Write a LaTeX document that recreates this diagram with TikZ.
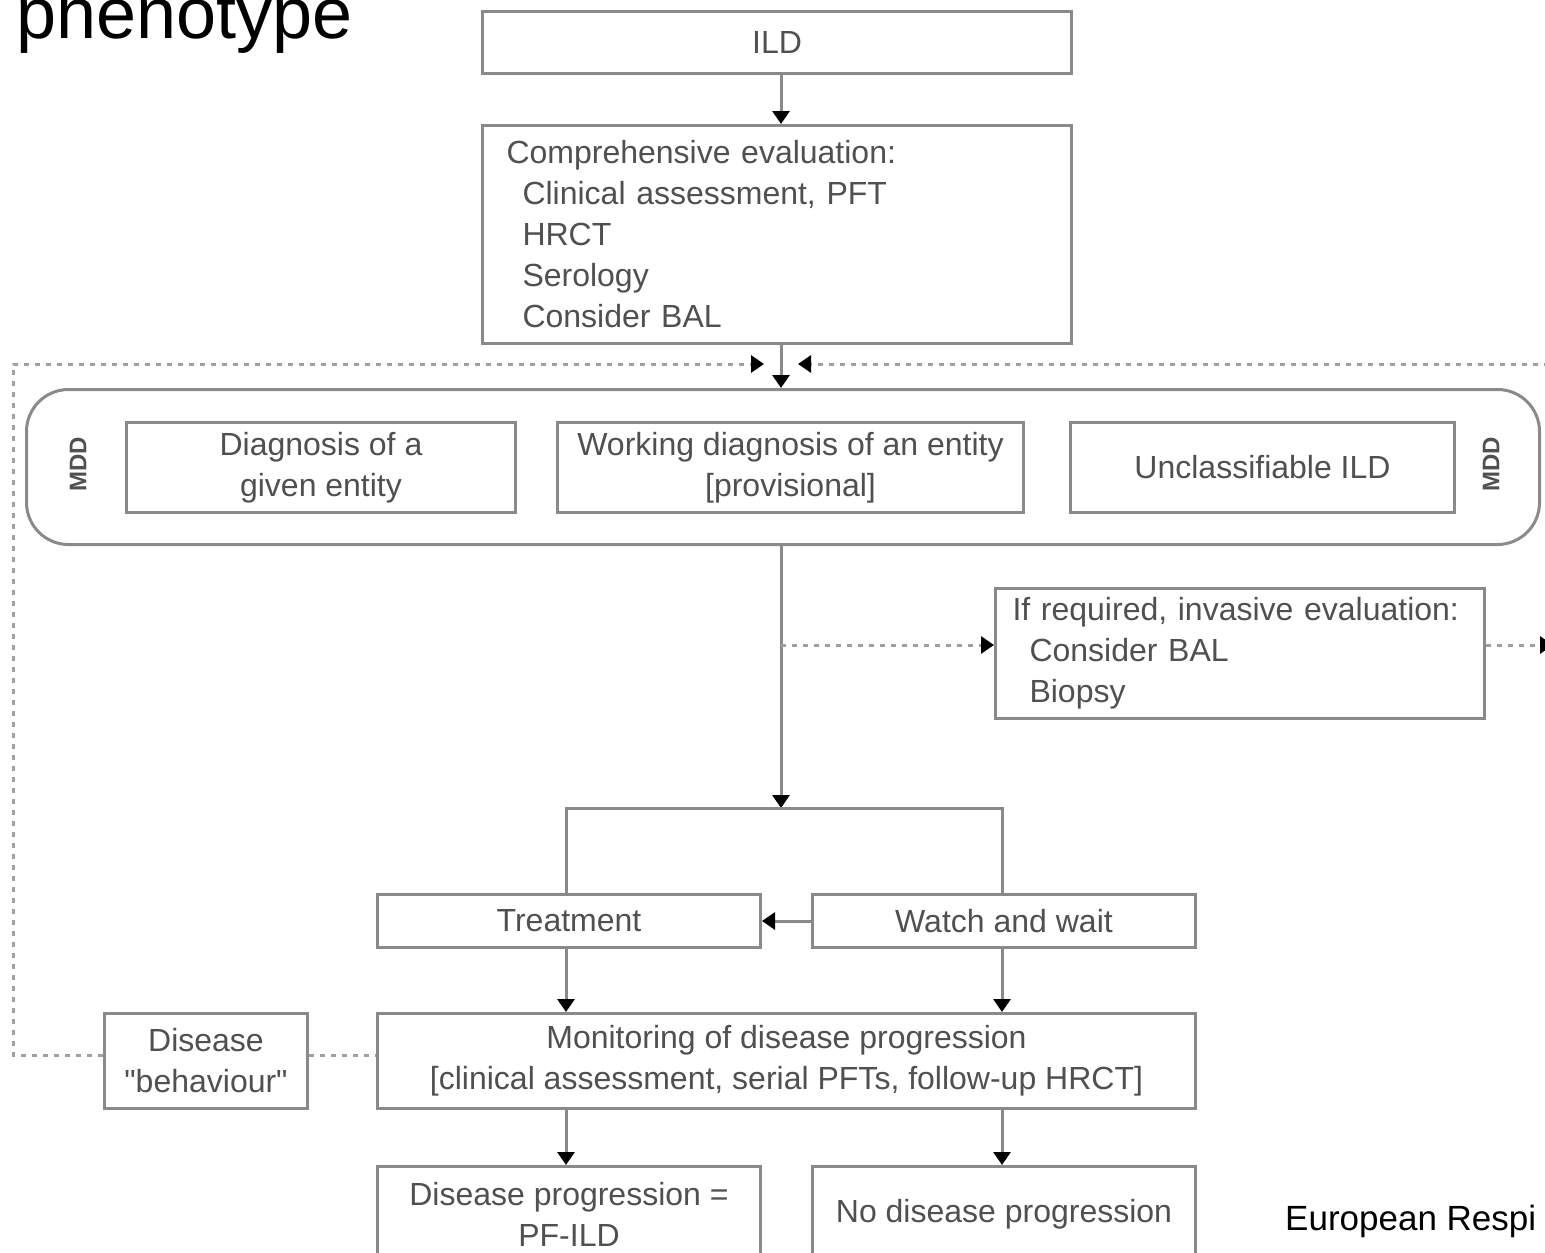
\documentclass[tikz,border=0pt]{standalone}
\usepackage{fontspec}
\setmainfont{Liberation Sans}
\newfontfamily\plainsans{Liberation Sans}
\usetikzlibrary{arrows.meta,calc}
\definecolor{boxgray}{HTML}{8A8A8A}
\definecolor{txtgray}{HTML}{505050}
\definecolor{dotgray}{HTML}{A0A0A0}
\begin{document}
\begin{tikzpicture}[x=1pt,y=-1pt,
  box/.style={draw=boxgray, line width=3pt, text=txtgray, font=\fontsize{32}{41}\selectfont, align=center, inner sep=0pt, anchor=north west},
  lbox/.style={box, align=left},
  conn/.style={draw=boxgray, line width=3pt},
  tipped/.style={-{Triangle[length=13pt,width=17pt,color=black]}},
  dots/.style={draw=dotgray, line width=3pt, dash pattern=on 5pt off 6pt},
  mddlabel/.style={text=txtgray, font=\fontsize{24}{26}\selectfont\bfseries, rotate=90, inner sep=0pt},
  bigtext/.style={text=black, inner sep=0pt, anchor=base west},
]
\clip (0,0) rectangle (1545,1253);
\fill[white] (0,0) rectangle (1545,1253);

% header / footer text
\node[bigtext, font=\fontsize{72}{80}\selectfont] (title) at (16,38) {phenotype};
\node[bigtext, font=\fontsize{35}{40}\selectfont] (src) at (1285,1230) {European Respi};

% boxes
\node[box, minimum width=589, minimum height=62] (ild) at (481,10) {ILD};
\node[lbox, text width=541, inner xsep=24, minimum height=218] (comp) at (481,124)
  {Comprehensive evaluation:\\
   \hspace*{16pt}Clinical assessment, PFT\\
   \hspace*{16pt}HRCT\\
   \hspace*{16pt}Serology\\
   \hspace*{16pt}Consider BAL};

\node[draw=boxgray, line width=3pt, rounded corners=42, minimum width=1513, minimum height=155, inner sep=0pt, anchor=north west] (mdd) at (25,388) {};
\node[mddlabel] (mddL) at (78,464) {MDD};
\node[mddlabel] (mddR) at (1491,464) {MDD};
\node[box, minimum width=389, minimum height=90] (diag) at (125,421) {Diagnosis of a\\given entity};
\node[box, minimum width=466, minimum height=90] (work) at (556,421) {Working diagnosis of an entity\\{[}provisional{]}};
\node[box, minimum width=384, minimum height=90] (uncl) at (1069,421) {Unclassifiable ILD};

\node[lbox, text width=455, inner xsep=17, minimum height=130] (inv) at (994,587)
  {If required, invasive evaluation:\\
   \hspace*{17pt}Consider BAL\\
   \hspace*{17pt}Biopsy};

\node[box, minimum width=383, minimum height=53] (treat) at (376,893) {Treatment};
\node[box, minimum width=383, minimum height=53] (watch) at (811,893) {Watch and wait};
\node[box, minimum width=818, minimum height=95] (mon) at (376,1012)
  {Monitoring of disease progression\\{[}clinical assessment, serial PFTs, follow-up HRCT{]}};
\node[box, minimum width=203, minimum height=95, font=\plainsans\fontsize{32}{41}\selectfont] (beh) at (103,1012) {Disease\\"behaviour"};
\node[box, minimum width=383, minimum height=96] (prog) at (376,1165) {Disease progression =\\PF-ILD};
\node[box, minimum width=383, minimum height=96] (noprog) at (811,1165) {No disease progression};

% coordinates
\coordinate (axis) at (781,808);
\coordinate (brL) at (566,808);
\coordinate (brR) at (1002,808);
\coordinate (fbA) at (13,1055);
\coordinate (fbB) at (13,364);
\coordinate (inL) at (764,364);
\coordinate (inR) at (798,364);
\coordinate (fbR) at (1560,364);
\coordinate (out) at (1553,645);
\coordinate (tapA) at (781,645);

% solid connectors
\draw[conn, tipped] (ild.south -| axis) -- (comp.north -| axis);
\draw[conn, tipped] (comp.south -| axis) -- (mdd.north -| axis);
\draw[conn, tipped] (mdd.south -| axis) -- (axis);
\draw[conn] (treat.north -| brL) -- (brL) -- (brR) -- (watch.north -| brR);
\draw[conn, tipped] (watch.west) -- (treat.east);
\draw[conn, tipped] (treat.south -| brL) -- (mon.north -| brL);
\draw[conn, tipped] (watch.south -| brR) -- (mon.north -| brR);
\draw[conn, tipped] (mon.south -| brL) -- (prog.north -| brL);
\draw[conn, tipped] (mon.south -| brR) -- (noprog.north -| brR);

% dotted connectors
\draw[dots, tipped] (tapA) -- (inv.west |- tapA);
\draw[dots, tipped] (inv.east |- out) -- (out);
\draw[dots, tipped] (beh.west |- fbA) -- (fbA) -- (fbB) -- (inL);
\draw[dots] (beh.east |- fbA) -- (mon.west |- fbA);
\draw[dots, tipped] (fbR) -- (inR);
\end{tikzpicture}
\end{document}
